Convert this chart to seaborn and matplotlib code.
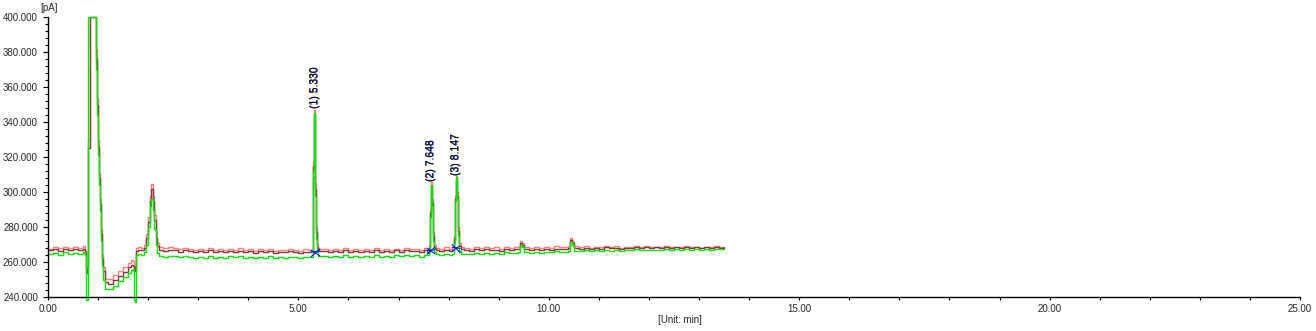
import numpy as np
import pandas as pd
import matplotlib
matplotlib.use("Agg")
import matplotlib.pyplot as plt
import seaborn as sns
from matplotlib.ticker import MultipleLocator, FormatStrFormatter

# ---------------- data ----------------
time_min = [
    0.0, 0.1, 0.2, 0.3, 0.4, 0.5, 0.6, 0.7,
    0.74, 0.76, 0.78, 0.80, 0.84, 0.88, 0.92, 0.94, 0.96, 0.98, 1.00, 1.02, 1.04, 1.06, 1.08, 1.10, 1.14,
    1.2, 1.3, 1.4, 1.5, 1.6, 1.66, 1.70, 1.72, 1.74, 1.76, 1.8, 1.86, 1.92, 1.96, 2.00, 2.03, 2.06, 2.09,
    2.12, 2.15, 2.18, 2.22, 2.3, 2.4,
    2.5, 2.6, 2.7, 2.8, 2.9, 3.0, 3.1, 3.2, 3.3, 3.4, 3.5, 3.6, 3.7, 3.8, 3.9, 4.0, 4.1, 4.2, 4.3, 4.4,
    4.5, 4.6, 4.7, 4.8, 4.9, 5.0, 5.1, 5.2,
    5.26, 5.29, 5.30, 5.31, 5.32, 5.33, 5.34, 5.35, 5.37, 5.40,
    5.5, 5.6, 5.7, 5.8, 5.9, 6.0, 6.1, 6.2, 6.3, 6.4, 6.5, 6.6, 6.7, 6.8, 6.9, 7.0, 7.1, 7.2, 7.3, 7.4, 7.5,
    7.56, 7.60, 7.62, 7.64, 7.66, 7.68, 7.70, 7.74, 7.8, 7.9, 8.0, 8.06, 8.10, 8.12, 8.14, 8.16, 8.18,
    8.20, 8.24, 8.3,
    8.4, 8.5, 8.6, 8.7, 8.8, 8.9, 9.0, 9.1, 9.2, 9.3,
    9.38, 9.42, 9.46, 9.50,
    9.6, 9.7, 9.8, 9.9, 10.0, 10.1, 10.2, 10.3,
    10.38, 10.42, 10.46, 10.50,
    10.6, 10.7, 10.8, 10.9, 11.0, 11.1, 11.2, 11.3, 11.4, 11.5, 11.6, 11.7, 11.8, 11.9, 12.0, 12.1,
    12.2, 12.3, 12.4, 12.5, 12.6, 12.7, 12.8, 12.9, 13.0, 13.1, 13.2, 13.3, 13.4, 13.5,
]

signal_red = [
    267.6, 268.3, 267.9, 268.8, 268.1, 268.6, 268.0, 268.9,
    266.5, 256, 258, 330, 400, 400, 400, 400, 382, 354, 330, 311, 296, 279, 264, 257, 250.5,
    250.5, 252.5, 255, 257, 259.5, 261, 260.5, 259, 257, 268, 268.4, 268, 269.5, 276, 286, 298, 304.5, 298,
    287, 277, 271, 268.5, 267.8, 268.4,
    267.9, 267.2, 268.1, 267.4, 266.8, 267.6, 267.0, 267.9, 266.9, 267.3, 266.6, 267.5, 266.9, 267.8,
    266.7, 267.2, 266.5, 267.4, 266.8, 267.6, 266.4, 267.1, 266.6, 267.5, 266.9, 266.3, 267.2, 266.7,
    266.8, 272, 318, 340, 347, 336, 305, 280, 270.5, 267.5,
    267.3, 266.6, 267.5, 266.9, 267.8, 266.8, 267.4, 266.7, 267.6, 267.0, 267.9, 266.9, 267.5, 266.8,
    267.7, 267.1, 268.0, 267.2, 267.6, 267.0, 267.8,
    267.2, 270, 290, 305.5, 296, 277, 270, 268.2, 267.6, 268.3, 267.5, 268.4, 275, 298, 309, 300, 280,
    271, 268.8, 268.1,
    267.6, 268.5, 267.9, 268.7, 267.8, 268.4, 267.7, 268.6, 268.0, 268.5,
    268.8, 272, 271, 268.5,
    268.2, 268.8, 268.0, 268.6, 268.1, 268.9, 268.3, 268.7,
    268.9, 273.5, 272, 269,
    268.4, 268.9, 268.2, 268.8, 268.3, 269.0, 268.5, 268.9, 268.2, 268.7, 268.4, 269.1, 268.6, 268.9,
    268.3, 268.8, 268.5, 269.0, 268.4, 268.7, 268.3, 268.9, 268.5, 268.8, 268.2, 268.7, 268.4, 268.9,
    268.5, 268.6,
]

signal_brown = [
    266.8, 267.2, 266.5, 267.6, 266.9, 267.3, 266.6, 267.4,
    265.5, 254, 256, 325, 400, 400, 400, 400, 376, 350, 326, 308, 293, 276, 262, 255, 248.5,
    247.5, 249.5, 252, 254.5, 257, 258.5, 258, 256.5, 255, 266.5, 267, 266.6, 268, 274, 283, 295, 301.5, 295,
    284, 274, 269, 267, 266.5, 267,
    266.6, 266.0, 266.8, 266.2, 265.7, 266.4, 265.9, 266.6, 265.8, 266.2, 265.5, 266.3, 265.8, 266.5,
    265.6, 266.1, 265.4, 266.2, 265.7, 266.3, 265.3, 265.9, 265.5, 266.2, 265.7, 265.2, 266.0, 265.6,
    265.8, 270, 315, 337, 344, 333, 302, 277, 268.5, 266.4,
    266.2, 265.6, 266.4, 265.8, 266.6, 265.7, 266.3, 265.6, 266.5, 265.9, 266.7, 265.8, 266.4, 265.7,
    266.6, 266.0, 266.8, 266.1, 266.5, 265.9, 266.6,
    266.0, 268, 288, 303.5, 294, 275, 268, 266.6, 266.2, 266.8, 266.1, 267.0, 273, 296, 307, 298, 278,
    269, 267.2, 266.6,
    266.5, 267.2, 266.7, 267.4, 266.6, 267.1, 266.5, 267.3, 266.8, 267.2,
    267.6, 271, 270, 267.4,
    267.1, 267.6, 266.9, 267.5, 267.0, 267.7, 267.2, 267.5,
    267.8, 272.5, 271, 268,
    267.6, 268.1, 267.5, 268.0, 267.7, 268.3, 267.9, 268.2, 267.6, 268.1, 267.9, 268.5, 268.1, 268.4,
    267.9, 268.3, 268.1, 268.6, 268.0, 268.3, 268.0, 268.5, 268.2, 268.4, 267.9, 268.3, 268.1, 268.5,
    268.2, 268.3,
]

signal_green = [
    264.6, 265.3, 264.2, 265.5, 264.7, 265.1, 264.4, 265.6,
    264.0, 238.3, 238.3, 400, 400, 400, 400, 400, 370, 344, 321, 304, 289, 272, 258, 250, 244.5,
    244.5, 246.5, 249, 251.5, 254, 255.5, 256, 238.3, 237.3, 264, 264.5, 263.8, 265.5, 270, 280, 292, 296, 290,
    279, 270, 265, 263.5, 263, 263.4,
    263.2, 262.6, 263.5, 262.8, 262.3, 263.1, 262.5, 263.4, 262.4, 262.9, 262.2, 263.2, 262.6, 263.3,
    262.3, 262.8, 262.1, 263.0, 262.5, 263.2, 262.2, 262.7, 262.4, 263.1, 262.6, 262.2, 263.0, 262.7,
    263.0, 268, 312, 336, 345, 332, 298, 273, 266, 263.5,
    263.3, 262.7, 263.6, 263.0, 263.8, 262.9, 263.5, 262.8, 263.7, 263.1, 264.0, 263.0, 263.6, 262.9,
    263.9, 263.2, 264.1, 263.3, 263.8, 263.1, 264.0,
    263.9, 266, 286, 304, 292, 272, 265.5, 264.3, 263.8, 264.4, 263.9, 264.6, 271, 295, 308.5, 296, 275,
    266.5, 264.8, 264.3,
    264.5, 265.2, 264.7, 265.4, 264.6, 265.2, 264.8, 265.5, 265.0, 265.3,
    265.6, 269.5, 268.5, 265.5,
    265.4, 265.9, 265.3, 266.0, 265.5, 266.1, 265.6, 266.0,
    266.2, 271.5, 269.5, 266.4,
    266.2, 266.7, 266.1, 266.6, 266.4, 266.9, 266.5, 266.9, 266.4, 266.8, 266.6, 267.2, 266.8, 267.1,
    266.7, 267.1, 266.9, 267.4, 266.9, 267.2, 266.9, 267.4, 267.1, 267.3, 266.9, 267.3, 267.1, 267.5,
    267.2, 267.3,
]

peak_names = ["(1) 5.330", "(2) 7.648", "(3) 8.147"]
peak_times = [5.32, 7.64, 8.14]
peak_start = [5.25, 7.57, 8.07]
peak_end = [5.43, 7.73, 8.23]

x_ticks = [0, 5, 10, 15, 20, 25]
y_ticks = [240, 260, 280, 300, 320, 340, 360, 380, 400]

# ---------------- plotting ----------------
sns.set_style("white")
plt.rcParams["font.family"] = ["Liberation Sans", "DejaVu Sans"]

W, H = 1316, 331
fig = plt.figure(figsize=(W / 100, H / 100), dpi=100)
ax = fig.add_axes([48 / W, 1 - 297 / H, (1300 - 48) / W, (297 - 17) / H])

n = min(len(time_min), len(signal_red), len(signal_brown), len(signal_green))
t = np.array(time_min[:n])
traces = [
    ("red", signal_red[:n], "#ff8080"),
    ("brown", signal_brown[:n], "#803c3c"),
    ("green", signal_green[:n], "#00e600"),
]
for name, vals, col in traces:
    df = pd.DataFrame({"t": t, "v": vals})
    sns.lineplot(data=df, x="t", y="v", ax=ax, color=col, linewidth=1.0,
                 drawstyle="steps-post", estimator=None, sort=False,
                 clip_on=False, legend=False)

# integration baselines (blue) under the peaks
for s, e in zip(peak_start, peak_end):
    ys = {nm: np.interp(s, t, v) for nm, v, _ in traces}
    ye = {nm: np.interp(e, t, v) for nm, v, _ in traces}
    ax.plot([s, e], [ys["green"], ye["red"]], color="#0000ff", lw=0.7)
    ax.plot([s, e], [ys["red"], ye["green"]], color="#0000ff", lw=0.7)
    ax.plot([s, e], [ys["brown"], ye["brown"]], color="#0000ff", lw=0.7)

# peak labels (rotated, overlapping for each trace)
for name, pt in zip(peak_names, peak_times):
    mask = (t > pt - 0.08) & (t < pt + 0.08)
    top = max(np.max(np.array(v)[mask]) for _, v, _ in traces)
    for dx, col in [(-0.012, "#e0a000"), (0.012, "#2040ff"), (0.0, "black")]:
        ax.text(pt + 0.015 + dx, top + 0.8, name, rotation=90, ha="center", va="bottom",
                fontsize=7.5, color=col)

ax.set_xlim(0, 25)
ax.set_ylim(240, 400)
ax.set_xticks(x_ticks)
ax.set_yticks(y_ticks)
ax.xaxis.set_major_formatter(FormatStrFormatter("%.2f"))
ax.yaxis.set_major_formatter(FormatStrFormatter("%.3f"))
ax.xaxis.set_minor_locator(MultipleLocator(1))
ax.yaxis.set_minor_locator(MultipleLocator(4))
ax.set_xlabel("")
ax.set_ylabel("")

for side in ["top", "right"]:
    ax.spines[side].set_visible(False)
for side in ["left", "bottom"]:
    ax.spines[side].set_visible(True)
    ax.spines[side].set_color("black")
    ax.spines[side].set_linewidth(1.0)

ax.tick_params(axis="y", which="major", direction="out", length=3.6, width=0.8,
               labelsize=7, pad=3.6, left=True, color="black")
ax.tick_params(axis="y", which="minor", direction="out", length=2.2, width=0.8, left=True, color="black")
ax.tick_params(axis="x", which="major", direction="out", length=2.5, width=0.8,
               labelsize=7, pad=2.5, bottom=True, color="black")
ax.tick_params(axis="x", which="minor", direction="out", length=2.5, width=0.8, bottom=True, color="black")

fig.text(49 / W, 1 - 8 / H, "[pA]", ha="center", va="center", fontsize=7)
fig.text(680 / W, 1 - 320 / H, "[Unit: min]", ha="center", va="center", fontsize=7)

fig.savefig("out.png", dpi=100)
